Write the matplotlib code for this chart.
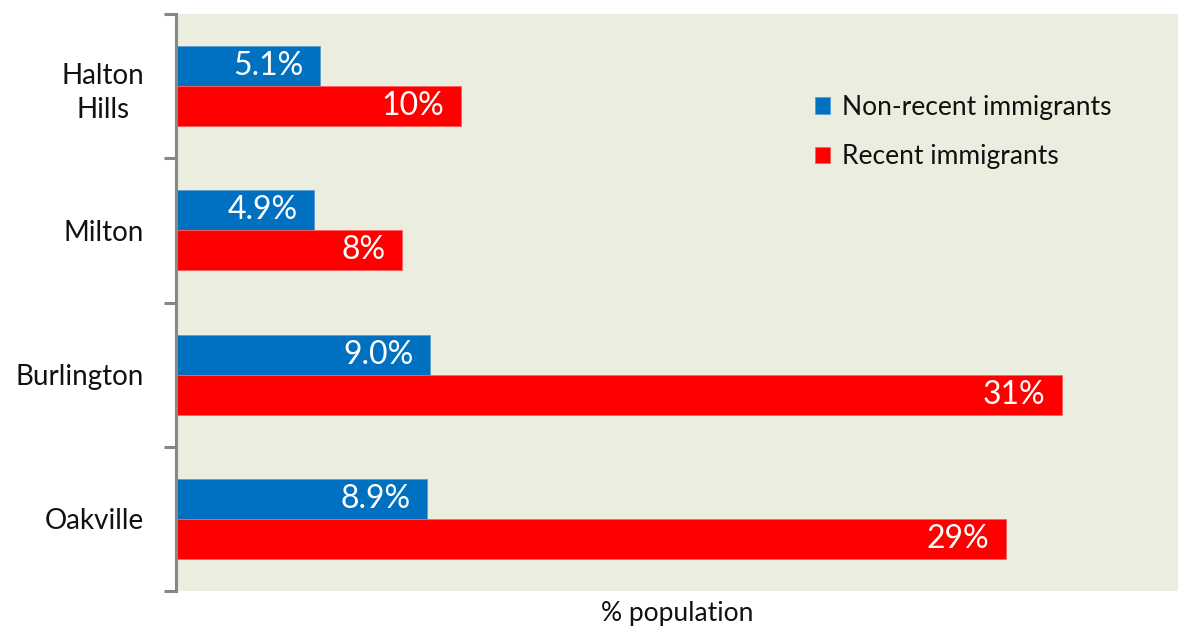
import matplotlib
matplotlib.use("Agg")
import matplotlib.pyplot as plt
import numpy as np

categories = ["Halton\nHills", "Milton", "Burlington", "Oakville"]
non_recent = [5.1, 4.9, 9.0, 8.9]
recent = [10.1, 8.0, 31.4, 29.4]
series_names = ["Non-recent immigrants", "Recent immigrants"]
xlabel = "% population"

blue = "#0070C0"
red = "#FF0000"
bg = "#EBEEDE"
font = "Lato"

plt.rcParams['font.family'] = [font, 'DejaVu Sans']

fig = plt.figure(figsize=(11.78, 6.28), dpi=100)
ax = fig.add_axes([176/1178, 1 - 591/628, 1 - 176/1178, (591 - 14)/628])
ax.set_facecolor(bg)

y = np.arange(len(categories))
h = 40/144
b1 = ax.barh(y - h/2, non_recent, height=h, color=blue, edgecolor="#5B9BD5", linewidth=0.6, label=series_names[0])
b2 = ax.barh(y + h/2, recent, height=h, color=red, edgecolor="#FF6060", linewidth=0.6, label=series_names[1])

for bars, vals, fmt in ((b1, non_recent, "{:.1f}%"), (b2, recent, "{:.0f}%")):
    for rect, v in zip(bars, vals):
        ax.annotate(fmt.format(v), xy=(v, rect.get_y() + rect.get_height()/2),
                    xytext=(-12, 0), textcoords="offset points", ha="right", va="center",
                    color="white", fontsize=23)

ax.set_xlim(0, 35.5)
ax.set_ylim(len(categories) - 0.5, -0.5)

ax.set_yticks(np.arange(len(categories) + 1) - 0.5)
ax.set_yticklabels([])
ax.tick_params(axis="y", which="major", length=9, width=2.2, color="#878787", direction="out")
ax.set_yticks(y, minor=True)
ax.set_yticklabels(categories, minor=True, fontsize=20, multialignment="center",
                   color="#111111", linespacing=1.4)
ax.tick_params(axis="y", which="minor", length=0, pad=23)
ax.set_xticks([])

for s in ["top", "right", "bottom"]:
    ax.spines[s].set_visible(False)
ax.spines["left"].set_color("#878787")
ax.spines["left"].set_linewidth(2.2)

ax.set_xlabel(xlabel, fontsize=19, labelpad=7, color="#111111")

leg = ax.legend(loc="upper left", frameon=False,
                fontsize=19, handlelength=0.58, handleheight=0.58, handletextpad=0.45,
                labelspacing=0.92, borderpad=0, borderaxespad=0)
for t in leg.get_texts():
    t.set_color("#111111")
leg.set_bbox_to_anchor((815/1178, 1 - 95/628), transform=fig.transFigure)

fig.savefig("out.png", dpi=100)
